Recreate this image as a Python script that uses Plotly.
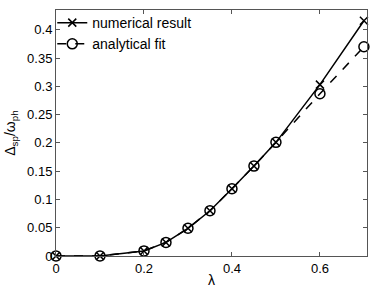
import plotly.graph_objects as go

lam = [0, 0.1, 0.2, 0.25, 0.3, 0.35, 0.4, 0.45, 0.5, 0.6, 0.7]
numerical = [0, 0, 0.009, 0.024, 0.049, 0.080, 0.119, 0.159, 0.201, 0.303, 0.416]
analytical = [0, 0, 0.009, 0.024, 0.049, 0.080, 0.119, 0.159, 0.201, 0.287, 0.370]
yticks = [0, 0.05, 0.1, 0.15, 0.2, 0.25, 0.3, 0.35, 0.4]
xticks = [0, 0.2, 0.4, 0.6]

FONT = "Liberation Sans, Arial"
fig = go.Figure()
fig.add_trace(go.Scatter(x=lam, y=numerical, mode="lines+markers", name="numerical result",
                         cliponaxis=False,
                         line=dict(color="black", width=1.5),
                         marker=dict(symbol="x-thin", size=8, line=dict(color="black", width=1.5))))
fig.add_trace(go.Scatter(x=lam, y=analytical, mode="lines+markers", name="analytical fit",
                         cliponaxis=False,
                         line=dict(color="black", width=1.5, dash="dash"),
                         marker=dict(symbol="circle-open", size=10, color="black", line=dict(color="black", width=1.5))))

axis_common = dict(showgrid=False, zeroline=False, showline=True, linecolor="#555", linewidth=1,
                   mirror="ticks", ticks="inside", ticklen=4, tickcolor="#555", automargin=False,
                   tickfont=dict(family=FONT, size=13, color="black"))
fig.update_xaxes(range=[0, 0.707], tickvals=xticks, ticktext=["0", "0.2", "0.4", "0.6"],
                 title=dict(text="λ", font=dict(family=FONT, size=14, color="black"), standoff=0),
                 **axis_common)
fig.update_yaxes(range=[0, 0.435], tickvals=yticks, ticktext=["0", "0.05", "0.1", "0.15", "0.2", "0.25", "0.3", "0.35", "0.4"],
                 title=dict(text="Δ<sub>sp</sub>/ω<sub>ph</sub>", font=dict(family=FONT, size=14, color="black"), standoff=8),
                 **axis_common)
fig.update_layout(width=374, height=290, margin=dict(l=56, r=7, t=7, b=34),
                  plot_bgcolor="white", paper_bgcolor="white", showlegend=True,
                  legend=dict(x=-0.012, y=1.012, xanchor="left", yanchor="top", bgcolor="rgba(0,0,0,0)",
                              font=dict(family=FONT, size=14, color="black"),
                              tracegroupgap=0, itemwidth=30))
fig.write_html("out.html", config={"displayModeBar": False},
               post_script="document.body.style.margin='0';document.body.style.overflow='hidden';")
